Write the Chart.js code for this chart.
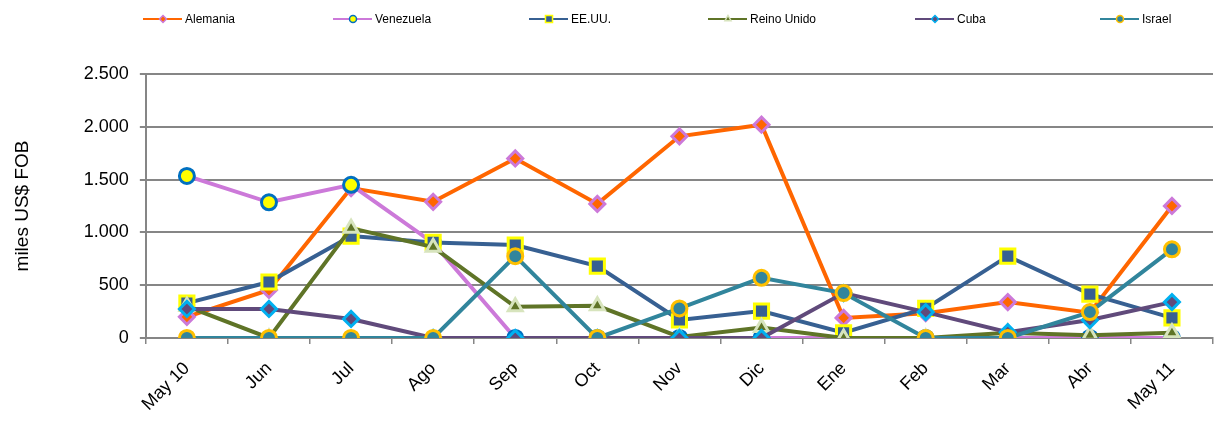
<!DOCTYPE html>
<html>
<head>
<meta charset="utf-8">
<script src="https://cdn.jsdelivr.net/npm/chart.js@4/dist/chart.umd.min.js"></script>
<style>
    html, body { margin: 0; padding: 0; background: #fff; }
    #wrap { width: 1226px; height: 425px; position: relative; }
</style>
</head>
<body>
<div id="wrap"><canvas id="chart-container"></canvas></div>
<script>
const months = ['May 10', 'Jun', 'Jul', 'Ago', 'Sep', 'Oct', 'Nov', 'Dic', 'Ene', 'Feb', 'Mar', 'Abr', 'May 11'];

const alemania   = [200, 455, 1420, 1290, 1700, 1270, 1910, 2020, 190, 235, 340, 240, 1250];
const venezuela  = [1535, 1285, 1450, 900, 0, 0, 0, 0, 0, 0, 0, 0, 0];
const eeuu       = [330, 530, 965, 905, 880, 680, 170, 255, 50, 280, 775, 415, 190];
const reinoUnido = [300, 0, 1040, 860, 295, 305, 10, 100, 0, 0, 50, 25, 50];
const cuba       = [275, 275, 180, 0, 0, 0, 0, 0, 425, 245, 55, 170, 340];
const israel     = [0, 0, 0, 0, 775, 0, 280, 570, 425, 0, 0, 245, 840];

const yTicks = [0, 500, 1000, 1500, 2000, 2500];

const fmt = (v) => String(v).replace(/\B(?=(\d{3})+(?!\d))/g, '.');

const series = [
    { label: 'Alemania',    data: alemania,   line: '#FF6600', fill: '#FF6600', edge: '#CC79D9', style: 'rectRot' },
    { label: 'Venezuela',   data: venezuela,  line: '#CC79D9', fill: '#FFFF00', edge: '#0070C0', style: 'circle' },
    { label: 'EE.UU.',      data: eeuu,       line: '#376092', fill: '#376092', edge: '#FFFF00', style: 'rect' },
    { label: 'Reino Unido', data: reinoUnido, line: '#5F7427', fill: '#5F7427', edge: '#D7E4BD', style: 'triangle' },
    { label: 'Cuba',        data: cuba,       line: '#604A7B', fill: '#604A7B', edge: '#00B0F0', style: 'rectRot' },
    { label: 'Israel',      data: israel,     line: '#31859C', fill: '#31859C', edge: '#FFC000', style: 'circle' }
];

// legend drawn by hand: line + marker, like the spreadsheet one
const legendPlugin = {
    id: 'lineLegend',
    afterDraw(chart) {
        const ctx = chart.ctx;
        const xs = [143, 333, 529, 708, 915, 1100];
        const y = 19;
        ctx.save();
        series.forEach((s, i) => {
            const x = xs[i];
            ctx.strokeStyle = s.line;
            ctx.lineWidth = 2;
            ctx.beginPath();
            ctx.moveTo(x, y);
            ctx.lineTo(x + 39, y);
            ctx.stroke();
            const opts = { pointStyle: s.style, radius: s.style === 'rect' ? 5 : 3.5, borderWidth: 1.5, rotation: 0 };
            ctx.fillStyle = s.fill;
            ctx.strokeStyle = s.edge;
            ctx.lineWidth = 1.5;
            Chart.helpers.drawPoint(ctx, opts, x + 20, y);
            ctx.fillStyle = '#000';
            ctx.font = '12px "Liberation Sans", Arial, sans-serif';
            ctx.textBaseline = 'middle';
            ctx.textAlign = 'left';
            ctx.fillText(s.label, x + 42, y + 1);
        });
        ctx.restore();
    }
};

const init = () => {
    const canvas = document.getElementById('chart-container');
    Chart.defaults.font.family = '"Liberation Sans", Arial, sans-serif';
    Chart.defaults.color = '#000';

    new Chart(canvas, {
        type: 'line',
        data: {
            labels: months,
            datasets: series.map((s, i) => ({
                label: s.label,
                data: s.data,
                borderColor: s.line,
                borderWidth: 4,
                backgroundColor: s.fill,
                pointBackgroundColor: s.fill,
                pointBorderColor: s.edge,
                pointBorderWidth: 3,
                pointStyle: s.style,
                pointRadius: s.style === 'triangle' ? 8 : (s.style === 'rect' ? 10 : 7.5),
                tension: 0,
                fill: false,
                order: series.length - i
            }))
        },
        options: {
            responsive: true,
            maintainAspectRatio: false,
            animation: false,
            devicePixelRatio: 1,
            layout: { padding: { top: 74, right: 12, left: 11, bottom: -4 } },
            plugins: {
                legend: { display: false },
                tooltip: { enabled: false }
            },
            scales: {
                x: {
                    offset: true,
                    grid: {
                        offset: true,
                        drawOnChartArea: false,
                        drawTicks: true,
                        tickLength: 6,
                        color: '#868686',
                        lineWidth: 1.5
                    },
                    border: { color: '#868686', width: 2 },
                    ticks: {
                        maxRotation: 45,
                        minRotation: 45,
                        autoSkip: false,
                        padding: 14,
                        font: { size: 18 }
                    }
                },
                y: {
                    min: 0,
                    max: 2500,
                    afterBuildTicks: (axis) => {
                        axis.ticks = yTicks.map(v => ({ value: v }));
                    },
                    grid: {
                        color: '#868686',
                        lineWidth: 2,
                        tickLength: 6
                    },
                    border: { color: '#868686', width: 2 },
                    ticks: {
                        padding: 11,
                        font: { size: 18 },
                        callback: (v) => fmt(v)
                    },
                    title: {
                        display: true,
                        text: 'miles US$ FOB',
                        font: { size: 19 },
                        padding: { top: 0, bottom: 39 }
                    }
                }
            }
        },
        plugins: [legendPlugin]
    });
};

document.addEventListener('DOMContentLoaded', init);
</script>
</body>
</html>
